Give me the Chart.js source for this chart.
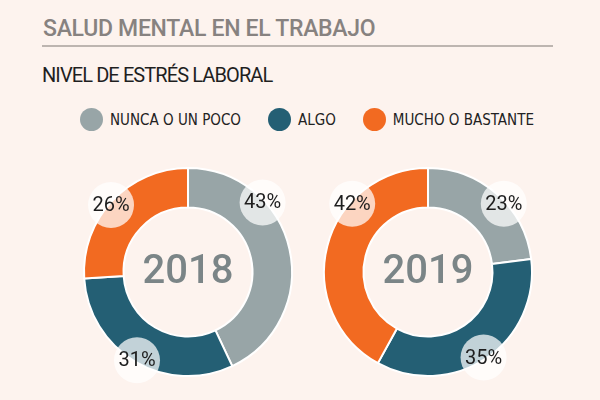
<!DOCTYPE html>
<html>
<head>
<meta charset="utf-8">
<script src="https://cdn.jsdelivr.net/npm/chart.js@4"></script>
<style>
  html, body { margin: 0; padding: 0; }
  body { width: 600px; height: 400px; background: #fdf3ee; position: relative; overflow: hidden; font-family: Roboto, sans-serif; }
  .title { position: absolute; left: 43px; top: 15px; font-size: 23px; font-weight: 500; color: #878280; letter-spacing: -0.3px; }
  .rule { position: absolute; left: 42px; top: 45px; width: 511px; height: 2px; background: #bdb5b0; }
  .subtitle { position: absolute; left: 42px; top: 63px; font-size: 20px; color: #1f1f1f; letter-spacing: -0.9px; }
  .legend { position: absolute; top: 108px; left: 80px; display: flex; align-items: center; font-family: "DejaVu Sans Condensed", "DejaVu Sans", sans-serif; font-size: 15px; color: #222; }
  .legend span.dot { width: 23px; height: 23px; border-radius: 50%; display: inline-block; margin-right: 7px; }
  .legend .item { display: flex; align-items: center; margin-right: 27px; }
  canvas { position: absolute; }
  #c2018 { left: 48px; top: 132px; }
  #c2019 { left: 288px; top: 132px; }
</style>
</head>
<body>
<div class="title">SALUD MENTAL EN EL TRABAJO</div>
<div class="rule"></div>
<div class="subtitle">NIVEL DE ESTRÉS LABORAL</div>
<div class="legend" id="legend"></div>
<canvas id="c2018" width="280" height="280"></canvas>
<canvas id="c2019" width="280" height="280"></canvas>
<script>
// datos
const categories = ['NUNCA O UN POCO', 'ALGO', 'MUCHO O BASTANTE'];
const years = ['2018', '2019'];
const values2018 = [43, 31, 26];
const values2019 = [23, 35, 42];

const colors = ['#98a5a7', '#245f74', '#f26a21'];

// leyenda
const legend = document.getElementById('legend');
let html = '';
for (let i = 0; i < categories.length; i++) {
    html += `<div class="item"><span class="dot" style="background:${colors[i]}"></span>${categories[i]}</div>`;
}
legend.innerHTML = html;

// etiquetas en circulos + año en el centro
const pctLabels = {
    id: 'pctLabels',
    afterDatasetsDraw(chart, args, opts) {
        const ctx = chart.ctx;
        const meta = chart.getDatasetMeta(0);
        const data = chart.data.datasets[0].data;
        ctx.save();
        meta.data.forEach(function(arc, i){
            const a = opts.angles[i] * Math.PI / 180 - Math.PI / 2;
            const r = arc.outerRadius - 2;
            const x = arc.x + Math.cos(a) * r;
            const y = arc.y + Math.sin(a) * r;
            ctx.beginPath();
            ctx.arc(x, y, 23, 0, Math.PI * 2);
            ctx.fillStyle = 'rgba(255,255,255,0.72)';
            ctx.fill();
            ctx.fillStyle = '#1e1e1e';
            ctx.font = '400 20px Roboto';
            ctx.textAlign = 'center';
            ctx.textBaseline = 'middle';
            ctx.fillText(data[i] + '%', x, y + 1);
        });
        const first = meta.data[0];
        ctx.fillStyle = '#7b8587';
        ctx.font = '500 40px Roboto';
        ctx.textAlign = 'center';
        ctx.textBaseline = 'middle';
        ctx.fillText(opts.year, first.x, first.y + 1);
        ctx.restore();
    }
};

function createChart(canvas, values, year, angles){
    new Chart(canvas, {
        type: 'doughnut',
        data: {
            labels: categories,
            datasets: [{
                data: values,
                backgroundColor: colors,
                borderColor: '#ffffff',
                borderWidth: 2
            }]
        },
        options: {
            responsive: false,
            animation: false,
            cutout: '62%',
            layout: { padding: 35 },
            plugins: {
                legend: { display: false },
                tooltip: { enabled: false },
                pctLabels: { year: year, angles: angles }
            }
        },
        plugins: [pctLabels]
    });
}

createChart(document.getElementById('c2018'), values2018, years[0], [47, 210, 311]);
createChart(document.getElementById('c2019'), values2019, years[1], [48, 147, 312]);
</script>
</body>
</html>
